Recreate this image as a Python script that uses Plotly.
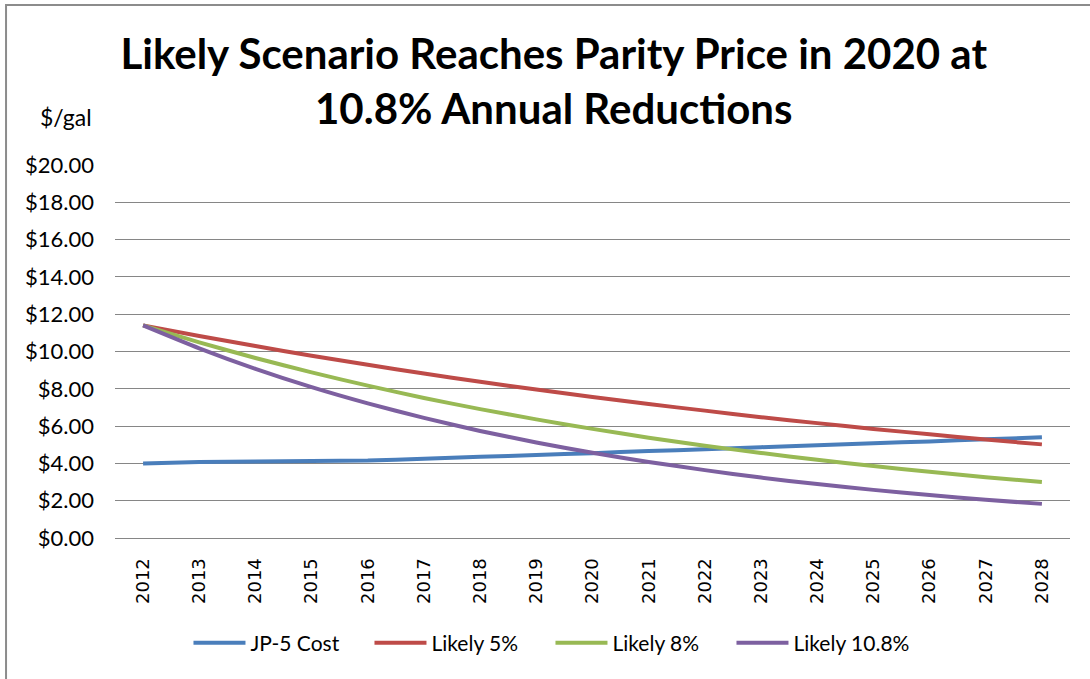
import plotly.graph_objects as go

# Data ($/gal)
years = [str(y) for y in range(2012, 2029)]
jp5_cost = [4.00, 4.08, 4.10, 4.13, 4.15, 4.25, 4.35, 4.45, 4.55,
            4.66, 4.76, 4.87, 4.97, 5.08, 5.18, 5.29, 5.40]
likely_5 = [11.40, 10.83, 10.29, 9.77, 9.29, 8.82, 8.38, 7.96, 7.56,
            7.18, 6.83, 6.48, 6.16, 5.85, 5.56, 5.28, 5.02]
likely_8 = [11.40, 10.49, 9.65, 8.88, 8.17, 7.51, 6.91, 6.36, 5.85,
            5.38, 4.95, 4.56, 4.19, 3.86, 3.55, 3.26, 3.00]
likely_108 = [11.40, 10.17, 9.07, 8.09, 7.22, 6.44, 5.74, 5.12, 4.57,
              4.08, 3.64, 3.24, 2.89, 2.58, 2.30, 2.05, 1.83]

series = [
    ("JP-5 Cost", jp5_cost, "#4A7EBB"),
    ("Likely 5%", likely_5, "#BE4B48"),
    ("Likely 8%", likely_8, "#98B954"),
    ("Likely 10.8%", likely_108, "#7D60A0"),
]

fig = go.Figure()
for name, vals, color in series:
    fig.add_trace(go.Scatter(x=years, y=vals, mode="lines", name=name,
                             line=dict(color=color, width=4, shape="spline", smoothing=0.6)))

fig.update_layout(
    width=1090, height=679,
    margin=dict(l=115, r=20, t=165, b=141),
    paper_bgcolor="white", plot_bgcolor="white",
    font=dict(family="Lato, Calibri, sans-serif", color="black"),
    title=dict(text="<b>Likely Scenario Reaches Parity Price in 2020 at<br>10.8% Annual Reductions</b>",
               x=0.508, xanchor="center", y=0.898, yanchor="top",
               font=dict(size=42, family="Lato, sans-serif")),
    showlegend=True,
    legend=dict(orientation="h", x=0.456, xanchor="center", y=-0.2815, yanchor="middle",
                font=dict(size=21, family="Lato, sans-serif"), itemwidth=52,
                entrywidth=114, entrywidthmode="pixels"),
    xaxis=dict(type="category", range=[-0.5, 16.5], tickangle=-90, showgrid=False,
               showline=True, linecolor="#868686", linewidth=1, ticks="",
               ticklabelstandoff=12,
               tickfont=dict(size=18, family="DejaVu Sans, Verdana, sans-serif")),
    yaxis=dict(range=[0, 20], dtick=2, tickprefix="$", tickformat=".2f",
               showgrid=True, gridcolor="#868686", gridwidth=1, zeroline=False,
               showline=False, ticks="", ticklabelstandoff=20,
               tickfont=dict(size=22, family="Lato, sans-serif")),
)

fig.add_annotation(text="$/gal", xref="paper", yref="paper", x=-0.0513, y=1.1287,
                   xanchor="center", yanchor="middle",
                   showarrow=False, font=dict(size=23, family="Lato, sans-serif"))

# outer chart-area border (runs off the right/bottom edge of the image)
fig.add_shape(type="rect", xref="paper", yref="paper", x0=-0.1141, x1=1.05, y0=-0.45, y1=1.429,
              line=dict(color="#8C8C8C", width=2), fillcolor="rgba(0,0,0,0)", layer="below")

fig.write_html("out.html", config={"displayModeBar": False},
               post_script="document.body.style.margin='0px';")
